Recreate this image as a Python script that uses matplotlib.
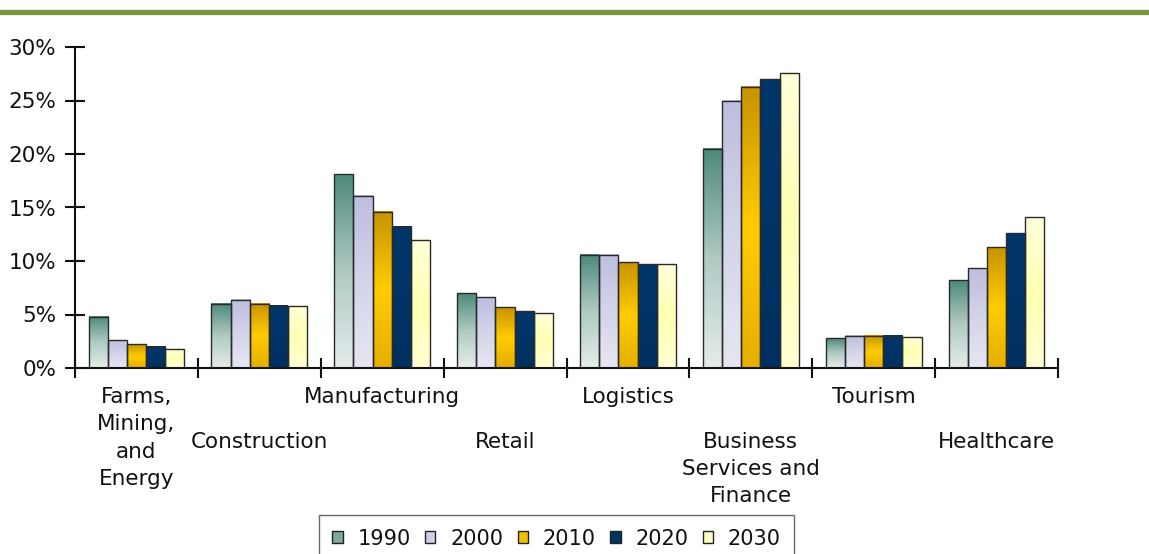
import numpy as np
import matplotlib
matplotlib.use("Agg")
import matplotlib.pyplot as plt
from matplotlib.colors import LinearSegmentedColormap
from matplotlib.lines import Line2D
from matplotlib.patches import Patch

categories = ["Farms,\nMining,\nand\nEnergy", "Construction", "Manufacturing", "Retail",
              "Logistics", "Business\nServices and\nFinance", "Tourism", "Healthcare"]
years = ["1990", "2000", "2010", "2020", "2030"]
v1990 = [4.8, 6.0, 18.1, 7.0, 10.6, 20.5, 2.8, 8.2]
v2000 = [2.6, 6.4, 16.1, 6.6, 10.6, 25.0, 3.0, 9.3]
v2010 = [2.2, 6.0, 14.6, 5.7, 9.9, 26.3, 3.0, 11.3]
v2020 = [2.0, 5.8, 13.2, 5.3, 9.7, 27.0, 3.0, 12.6]
v2030 = [1.8, 5.8, 12.0, 5.1, 9.7, 27.6, 2.9, 14.1]
series = [v1990, v2000, v2010, v2020, v2030]

# gradient stops, top -> bottom
grads = [
    ["#4F8A7C", "#AFCAC3", "#E4ECEA"],
    ["#BEBEDF", "#D4D4EA", "#E6E6F2"],
    ["#C89400", "#FFCC00", "#E6AE00"],
    ["#00366B", "#003366", "#00305F"],
    ["#FFFFDA", "#FFFFB4", "#FFFFD2"],
]
base_cols = ["#7FA89E", "#CFCFE6", "#F2BE00", "#003366", "#FFFFC0"]

W, H = 1149, 554
fig = plt.figure(figsize=(W / 100, H / 100), dpi=100)
ax = fig.add_axes([75 / W, 1 - 368 / H, (1058 - 75) / W, (368 - 47) / H])

n = len(categories)
x = np.arange(n)
group = 0.78
bw = group / len(series)
for i, vals in enumerate(series):
    offs = (i - (len(series) - 1) / 2) * bw
    bars = ax.bar(x + offs, np.array(vals) / 100, width=bw, facecolor="none",
                  edgecolor="#2a2a2a", linewidth=1.0, zorder=3)
    cmap = LinearSegmentedColormap.from_list(f"g{i}", grads[i][::-1])
    for b in bars:
        x0, y0 = b.get_x(), b.get_y()
        w, h = b.get_width(), b.get_height()
        grad = np.linspace(0, 1, 64).reshape(-1, 1)
        ax.imshow(grad, extent=[x0, x0 + w, y0, y0 + h], origin="lower",
                  cmap=cmap, aspect="auto", zorder=2, interpolation="bilinear")

ax.set_xlim(-0.5, n - 0.5)
ax.set_ylim(0, 0.30)
ax.set_yticks(np.arange(0, 0.31, 0.05))
ax.set_yticklabels([f"{int(round(t*100))}%" for t in np.arange(0, 0.31, 0.05)])
ax.set_xticks(np.arange(-0.5, n, 1.0))
ax.set_xticklabels([])
ax.tick_params(axis="both", direction="inout", length=14, width=1.5, colors="#111111",
               labelsize=15.5, labelcolor="#111111")
ax.tick_params(axis="y", pad=6.5)
for s in ["top", "right"]:
    ax.spines[s].set_visible(False)
for s in ["left", "bottom"]:
    ax.spines[s].set_linewidth(1.5)
    ax.spines[s].set_color("#111111")

for i, lab in enumerate(categories):
    off = -14 if i % 2 == 0 else -46
    ax.annotate(lab, xy=(i, 0), xycoords=("data", "axes fraction"),
                xytext=(0, off), textcoords="offset points",
                ha="center", va="top", fontsize=15.5, color="#111111",
                linespacing=1.44)

# top green rule
fig.add_artist(Line2D([2 / W, 1], [1 - 11.5 / H] * 2, transform=fig.transFigure,
                      color="#77933C", linewidth=3.8))

handles = [Patch(facecolor=base_cols[i], edgecolor="#222222", linewidth=1) for i in range(5)]
leg = fig.legend(handles, years, loc="upper center", bbox_to_anchor=(556.5 / W, 1 - 515 / H),
                 ncol=5, fontsize=15, frameon=True, fancybox=False, handlelength=0.5,
                 handleheight=0.5, handletextpad=0.7, columnspacing=0.7,
                 borderpad=0.65, borderaxespad=0)
for t in leg.get_texts():
    t.set_color("#111111")
leg.get_frame().set_edgecolor("#444444")
leg.get_frame().set_linewidth(1)

fig.savefig("out.png", dpi=100)
